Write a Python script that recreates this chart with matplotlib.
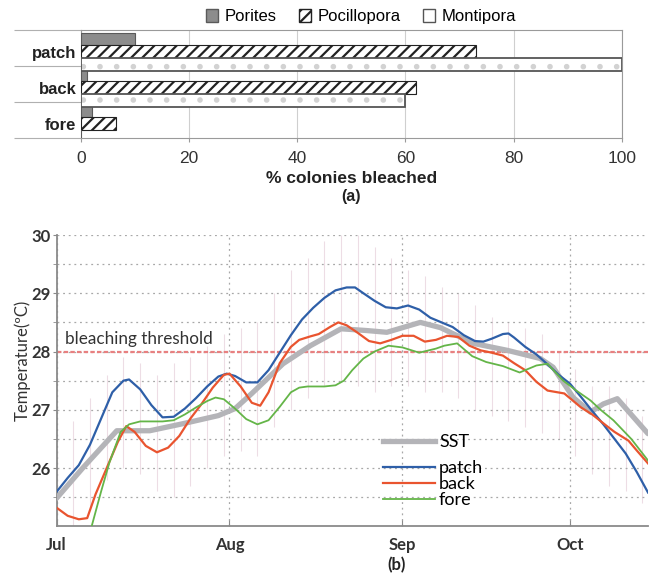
import numpy as np
import matplotlib
matplotlib.use('Agg')
import matplotlib.pyplot as plt
from matplotlib.lines import Line2D
from matplotlib.patches import Patch

plt.rcParams['hatch.linewidth'] = 1.6

# ---- (a) bleaching survey ----
categories = ['patch', 'back', 'fore']
porites = [10, 1.2, 2]
pocillopora = [73, 62, 6.5]
montipora = [100, 60, 0]

# ---- (b) temperature records (day 0 = 1 Jul) ----
month_days = [0, 31, 62, 92]
month_names = ['Jul', 'Aug', 'Sep', 'Oct']
threshold = 28

sst_days = [0, 4.7, 10.8, 16.7, 22.6, 29, 32, 35, 40.6, 45.5, 51, 55.6, 59.2, 65.2,
            68.8, 74.7, 80.8, 86.7, 89, 92.6, 95.7, 98, 100.5, 106]
sst_temp = [25.48, 26.0, 26.64, 26.64, 26.76, 26.9, 27.02, 27.28, 27.79, 28.1, 28.39, 28.36,
            28.33, 28.5, 28.41, 28.14, 28.02, 27.88, 27.73, 27.21, 26.96, 27.1, 27.19, 26.59]

patch_days = [0, 2, 4, 6, 8, 10, 12, 13, 15, 17, 19, 21, 23, 25, 27, 29, 30.5, 32, 34, 36,
              38, 40, 42, 44, 46, 48, 50, 52, 53.5, 55, 57, 59, 61, 63, 65, 67, 69, 71, 73, 75,
              76.5, 78, 80, 81, 82, 84, 86, 88, 90, 92, 94, 96, 98, 100, 102, 104, 106]
patch_temp = [25.59, 25.83, 26.05, 26.4, 26.85, 27.3, 27.5, 27.52, 27.35, 27.08, 26.87, 26.88,
              27.02, 27.2, 27.4, 27.57, 27.62, 27.58, 27.47, 27.47, 27.68, 27.98, 28.28, 28.55,
              28.75, 28.92, 29.05, 29.1, 29.1, 29.0, 28.87, 28.76, 28.74, 28.79, 28.72, 28.58,
              28.5, 28.42, 28.28, 28.18, 28.17, 28.22, 28.3, 28.31, 28.24, 28.08, 27.95, 27.78,
              27.6, 27.45, 27.22, 26.98, 26.75, 26.5, 26.25, 25.93, 25.58]

back_days = [0, 2, 4, 5.5, 7, 9, 11, 12.5, 14, 16, 18, 20, 22, 24, 26, 28, 30, 31, 33, 35,
             36.5, 38, 40, 42, 43.5, 45.5, 47, 49, 50.5, 52, 54, 56, 58, 60, 62, 64, 66, 68, 70, 72,
             74, 76, 78, 80, 82, 84, 86, 88, 91, 94, 96, 98.5, 100, 102.5, 104, 106]
back_temp = [25.32, 25.18, 25.12, 25.14, 25.55, 26.0, 26.45, 26.72, 26.62, 26.38, 26.27, 26.35,
             26.55, 26.85, 27.1, 27.38, 27.6, 27.62, 27.4, 27.12, 27.07, 27.3, 27.8, 28.08,
             28.2, 28.26, 28.3, 28.42, 28.5, 28.45, 28.32, 28.18, 28.14, 28.2, 28.27, 28.27,
             28.17, 28.2, 28.27, 28.25, 28.1, 28.02, 27.98, 27.93, 27.8, 27.68, 27.48, 27.33,
             27.28, 27.04, 26.92, 26.73, 26.62, 26.47, 26.3, 26.08]

fore_days = [0, 3, 6.3, 8, 9.5, 11.5, 13, 15, 17, 19, 21, 23, 25, 27, 28.5, 30, 32, 34, 36, 38,
             40, 42, 43.5, 45, 48, 50, 51.5, 53, 55, 57, 59.5, 62, 65, 68, 69.5, 71.8, 74.5, 77, 80, 83,
             86, 88, 90.8, 93, 95.7, 97.5, 99.8, 103, 106]
fore_temp = [24.3, 24.6, 25.0, 25.6, 26.1, 26.62, 26.75, 26.8, 26.8, 26.8, 26.82, 26.92, 27.04,
             27.15, 27.21, 27.18, 27.02, 26.84, 26.75, 26.82, 27.05, 27.3, 27.38, 27.4, 27.4,
             27.42, 27.5, 27.68, 27.88, 28.0, 28.1, 28.07, 27.98, 28.05, 28.1, 28.14, 27.92,
             27.82, 27.75, 27.64, 27.76, 27.79, 27.5, 27.34, 27.16, 27.0, 26.82, 26.5, 26.13]

# faint hourly scatter behind the curves (rough daily range)
noise_days = list(range(0, 106, 3))
noise_low = [25.2, 25.0, 25.3, 25.8, 26.0, 25.9, 25.6, 25.5, 25.7, 26.0, 26.2, 26.3, 26.2, 26.7,
             27.0, 27.2, 27.4, 27.5, 27.4, 27.3, 27.4, 27.4, 27.3, 27.3, 27.2, 27.0, 26.9, 26.8,
             26.7, 26.6, 26.5, 26.2, 25.9, 25.7, 25.6, 25.4]
noise_high = [26.3, 26.8, 27.2, 27.6, 27.9, 27.8, 27.6, 27.8, 27.9, 28.1, 28.3, 28.4, 28.5, 29.0,
              29.4, 29.6, 29.9, 30.0, 30.0, 29.8, 29.6, 29.4, 29.3, 29.1, 29.0, 28.8, 28.6, 28.5,
              28.4, 28.3, 28.0, 27.7, 27.4, 27.4, 27.2, 26.9]

fig = plt.figure(figsize=(6.54, 5.77), dpi=100)

# ================= (a) =================
ax1 = fig.add_axes([0.1234, 0.7608, 0.8276, 0.1872])
ypos = np.array([2, 1, 0])
h = 0.36
ax1.barh(ypos + h, porites, height=h, color='#8c8c8c', edgecolor='#5a5a5a', lw=0.8, zorder=3)
ax1.barh(ypos, pocillopora, height=h, color='white', edgecolor='#222222', hatch='///', lw=0.8, zorder=3)
ax1.barh(ypos - h, montipora, height=h, color='white', edgecolor='#d2d2d2', hatch='.', lw=0, zorder=3)
ax1.barh(ypos - h, montipora, height=h, fill=False, edgecolor='#555555', lw=1.3, zorder=4)

ax1.set_xlim(0, 100)
ax1.set_ylim(-0.39, 2.61)
ax1.set_xticks([0, 20, 40, 60, 80, 100])
ax1.tick_params(axis='x', labelsize=12.5, colors='#9a9a9a', labelcolor='#333333', length=3, pad=6)
ax1.set_yticks(ypos)
ax1.set_yticklabels(categories, fontweight='bold', fontsize=12, color='#222222')
ax1.tick_params(axis='y', which='major', length=0, pad=3)
ax1.set_yticks([-0.39, 0.61, 1.61, 2.61], minor=True)
ax1.tick_params(axis='y', which='minor', length=48, width=0.8, color='#b0b0b0')
ax1.grid(axis='x', color='#cfcfcf', lw=0.8, zorder=0)
for s in ax1.spines.values():
    s.set_color('#9a9a9a')
for lab in ax1.get_xticklabels() + ax1.get_yticklabels():
    lab.set_family('Liberation Sans')

handles_a = [Patch(facecolor='#8c8c8c', edgecolor='#5a5a5a', label='Porites'),
             Patch(facecolor='white', edgecolor='#222222', hatch='///', label='Pocillopora'),
             Patch(facecolor='white', edgecolor='#555555', label='Montipora')]
fig.legend(handles=handles_a, loc='center', bbox_to_anchor=(0.552, 0.971), ncol=3,
           frameon=False, prop={'family': 'Liberation Sans', 'size': 12},
           handlelength=0.75, handleheight=0.75, handletextpad=0.4, columnspacing=1.3,
           borderpad=0)

fig.text(0.537, 0.691, '% colonies bleached', ha='center', va='center', fontsize=12.5,
         fontweight='bold', family='Liberation Sans', color='#222222')
fig.text(0.537, 0.659, '(a)', ha='center', va='center', fontsize=11.5,
         fontweight='bold', family='Liberation Sans', color='#222222')

# ================= (b) =================
ax2 = fig.add_axes([0.0864, 0.0879, 0.9044, 0.5048])
ax2.vlines(noise_days, noise_low, noise_high, colors='#eddde5', lw=0.8, zorder=0)

ax2.set_xlim(0, 106)
ax2.set_ylim(25, 30)
ax2.set_yticks([26, 27, 28, 29, 30])
ax2.set_yticks(np.arange(25.5, 30, 1.0), minor=True)
ax2.set_xticks(month_days)
ax2.set_xticklabels(month_names)
ax2.grid(axis='y', which='both', color='#a8a8a8', lw=0.9, ls=(0, (1.5, 3)), zorder=1)
ax2.grid(axis='x', which='major', color='#a8a8a8', lw=0.9, ls=(0, (1.5, 3)), zorder=1)
ax2.axhline(threshold, color='#e88080', lw=1.6, ls=(0, (2, 1)), zorder=2)
ax2.text(1.5, 28.07, 'bleaching threshold', fontsize=12.3, family='Lato', color='#333333',
         va='bottom', ha='left')

ax2.plot(sst_days, sst_temp, color='#b4b4b8', lw=3.8, solid_capstyle='round', zorder=3, label='SST')
ax2.plot(patch_days, patch_temp, color='#2e5fa8', lw=1.6, zorder=4, label='patch')
ax2.plot(back_days, back_temp, color='#e9542f', lw=1.6, zorder=4, label='back')
ax2.plot(fore_days, fore_temp, color='#64b548', lw=1.3, zorder=4, label='fore')

for side in ['top', 'right']:
    ax2.spines[side].set_visible(False)
for side in ['left', 'bottom']:
    ax2.spines[side].set_color('#8a8a8a')
    ax2.spines[side].set_linewidth(1.3)
ax2.tick_params(axis='y', which='major', length=3, color='#8a8a8a', labelsize=12, pad=1,
                labelcolor='#333333')
ax2.tick_params(axis='y', which='minor', length=3, color='#8a8a8a')
ax2.tick_params(axis='x', direction='in', length=4, color='#8a8a8a', labelsize=12, pad=8,
                labelcolor='#333333')
for lab in ax2.get_xticklabels() + ax2.get_yticklabels():
    lab.set_family('Lato')
    lab.set_fontweight('bold')

fig.text(0.035, 0.376, 'Temperature(\u00baC)', rotation=90, ha='center', va='center',
         fontsize=12, family='Lato', color='#333333')
fig.text(0.607, 0.021, '(b)', ha='center', va='center', fontsize=12, fontweight='bold',
         family='Lato', color='#222222')

fig.legend(handles=[Line2D([], [], color='#b4b4b8', lw=3.8)], labels=['SST'],
           loc='center left', bbox_to_anchor=(383 / 654, 1 - 442 / 577),
           frameon=False, prop={'family': 'Lato', 'size': 13}, handlelength=2.9,
           handletextpad=0.2, borderpad=0, borderaxespad=0)
fig.legend(handles=[Line2D([], [], color='#2e5fa8', lw=1.6),
                    Line2D([], [], color='#e9542f', lw=1.6),
                    Line2D([], [], color='#64b548', lw=1.3)],
           labels=['patch', 'back', 'fore'],
           loc='upper left', bbox_to_anchor=(383 / 654, 1 - 460 / 577),
           frameon=False, prop={'family': 'Lato', 'size': 13}, handlelength=2.9,
           handletextpad=0.2, labelspacing=0.0, borderpad=0, borderaxespad=0)

fig.savefig('out.png', dpi=100)
